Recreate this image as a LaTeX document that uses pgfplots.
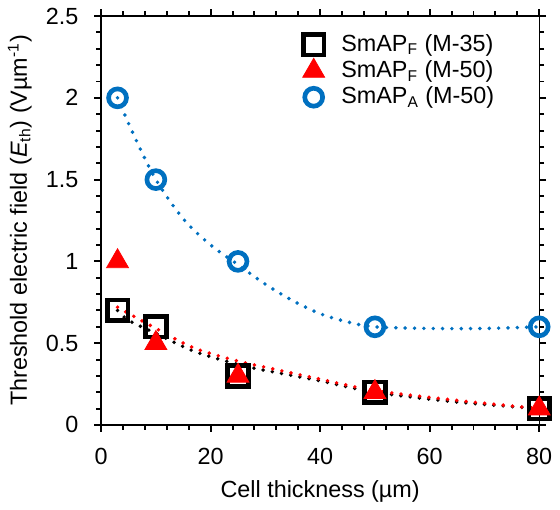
\documentclass[border=0pt]{standalone}
\usepackage{fontspec}
\setmainfont{Liberation Sans}
\usepackage{pgfplots}
\pgfplotsset{compat=1.18}
\definecolor{xlblue}{HTML}{0070C0}
\definecolor{xlred}{HTML}{FF0000}
\tikzset{
  trend/.style={line width=2pt, line cap=round, dash pattern=on 0pt off 4.8pt},
}
\begin{document}
\fontsize{12}{14}\selectfont
\begin{tikzpicture}
\begin{axis}[
  scale only axis, width=225pt, height=210pt,
  xmin=0, xmax=80, ymin=0, ymax=2.5,
  xtick={0,20,...,80}, ytick={0,0.5,...,2.5},
  minor x tick num=4, minor y tick num=4,
  tick align=outside, major tick length=3.5pt, minor tick length=2.5pt,
  tick style={black, line width=1pt},
  axis line style={line width=0.7pt},
  /pgf/number format/assume math mode=true,
  tick label style={font=\fontsize{12}{14}\selectfont},
  xticklabel style={yshift=-4pt},
  yticklabel style={xshift=-4pt, /pgf/number format/fixed, /pgf/number format/precision=1},
  xlabel={Cell thickness (µm)},
  ylabel={Threshold electric field (\textit{E}\textsubscript{th}) (Vµm\textsuperscript{-1})},
  label style={font=\fontsize{12}{14}\selectfont},
  xlabel style={yshift=0pt},
  ylabel style={yshift=-1pt},
  legend style={draw=none, fill=none, at={(0.446,0.975)}, anchor=north west,
    font=\fontsize{12}{13.5}\selectfont, row sep=-1pt,
    legend cell align=left},
  legend image code/.code={\draw[#1] plot coordinates {(0.3cm,0cm)}; \path (0.3cm+11pt,0pt);},
  clip=false,
]
\addplot[only marks, mark=square, mark size=5.3pt, line width=2.4pt, black]
  coordinates {(3,0.7) (10,0.6) (25,0.3) (50,0.2) (80,0.1)};
\addplot[only marks, mark=triangle*, mark size=6.5pt, xlred, mark options={draw=none}]
  coordinates {(3,1.0) (10,0.5) (25,0.3) (50,0.2) (80,0.1)};
\addplot[only marks, mark=o, mark size=4.6pt, line width=2.4pt, xlblue]
  coordinates {(3,2.0) (10,1.5) (25,1.0) (50,0.6) (80,0.6)};
\legend{SmAP\textsubscript{F} (M-35), SmAP\textsubscript{F} (M-50), SmAP\textsubscript{A} (M-50)}
% trendlines
\addplot[trend, black, smooth, forget plot] coordinates {(3,0.70) (5,0.64) (10,0.56) (17,0.45) (25,0.37) (29,0.34) (40,0.27) (50,0.20) (65,0.14) (80,0.10)};
\addplot[trend, xlred, smooth, forget plot] coordinates {(3,0.72) (10,0.59) (17,0.47) (25,0.39) (29,0.36) (40,0.28) (50,0.21) (65,0.15) (80,0.10)};
\addplot[trend, xlblue, smooth, forget plot] coordinates {(3,2.0) (6,1.77) (10,1.5) (15,1.26) (20,1.1) (25,0.98) (30,0.86) (35,0.76) (40,0.68) (45,0.63) (50,0.60) (60,0.59) (70,0.59) (80,0.60)};
\draw[line width=1.4pt] (rel axis cs:0,1) -- (rel axis cs:0,0) -- (rel axis cs:1,0);
\end{axis}
\end{tikzpicture}
\end{document}
